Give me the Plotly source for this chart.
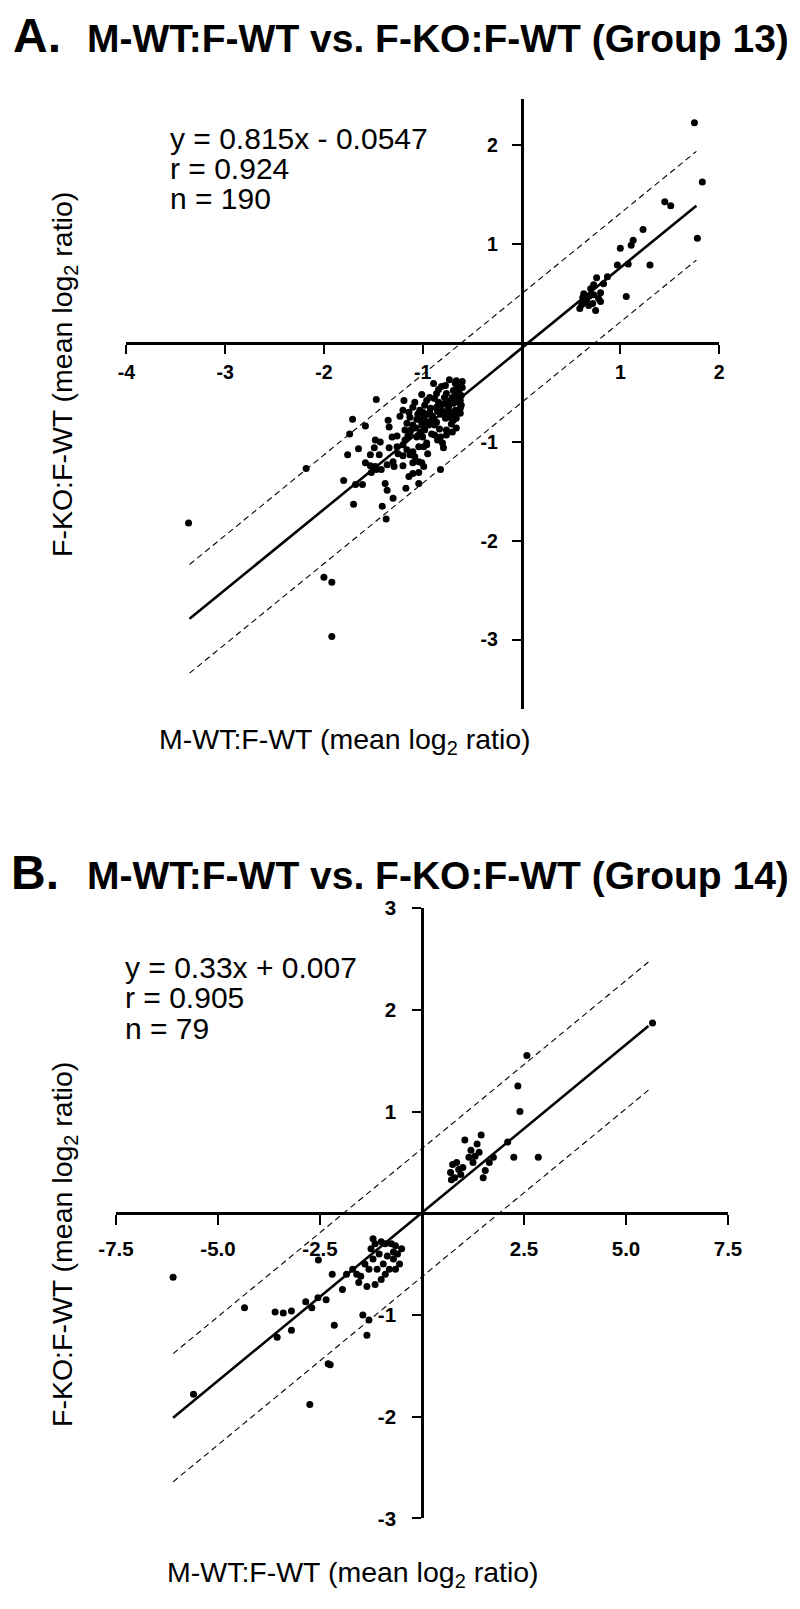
import plotly.graph_objects as go

# ---------------- Panel A (Group 13) data ----------------
g13_x = [-1.47, -1.19, -0.89, -0.81, -0.73, -0.66, -0.60, -0.65, -0.69, -0.76, -0.86, -1.01, -0.96, -0.88,
         -0.66, -0.62, -0.72, -0.69, -1.71, -1.58, -1.74, -1.35, -1.34, -1.20, -1.23, -1.10, -1.03, -0.98,
         -0.93, -0.86, -0.81, -0.74, -0.67, -0.62, -0.61, -1.13, -1.06, -0.99, -0.91, -0.86, -0.77, -0.69,
         -0.66, -0.76, -0.83, -0.88, -0.94, -1.01, -1.10, -1.16, -1.48, -1.43, -1.31, -1.26, -1.18, -1.20,
         -1.13, -1.06, -1.00, -0.96, -0.91, -0.82, -0.80, -0.79, -1.76, -1.65, -1.53, -1.44, -1.49, -1.34,
         -1.26, -1.16, -1.10, -1.04, -0.99, -0.96, -1.58, -1.53, -1.48, -1.36, -1.30, -1.29, -1.20, -1.08,
         -1.04, -1.01, -0.99, -1.10, -1.13, -1.52, -1.47, -1.42, -1.10, -1.04, -1.14, -0.82, -1.80, -1.68,
         -1.61, -1.38, -1.36, -1.30, -1.17, -1.04, -1.70, -1.41, -1.37,
         -3.37, -2.18, -2.00, -1.92, -1.92,
         -0.63, -0.64, -0.70, -0.75, -0.78, -0.80, -0.84, -0.68, -0.72, -0.64, -0.62, -0.66, -0.71, -0.73,
         -0.78, -0.82, -0.85, -0.90, -0.92, -0.95, -0.97, -1.00, -1.02, -1.05, -1.07, -1.12, -1.15, -1.18,
         -1.02, -0.98, -0.88, -0.85, -0.76, -0.70, -0.61, -0.60, -0.67, -0.77, -0.84, -0.93, -1.08, -1.14,
         -0.95, -1.20, -1.25,
         1.75, 1.83, 1.78, 1.45, 1.51, 1.23, 1.13, 1.11, 1.00, 0.97, 1.08, 1.30, 1.06, 0.87, 0.76, 0.73,
         0.80, 0.73, 0.80, 0.75, 0.68, 0.62, 0.61, 0.59, 0.64, 0.69, 0.66, 0.70, 0.78, 0.72, 0.63, 0.83]
g13_y = [-0.57, -0.58, -0.41, -0.44, -0.37, -0.38, -0.39, -0.44, -0.48, -0.51, -0.51, -0.52, -0.58, -0.56,
         -0.54, -0.58, -0.58, -0.61, -0.77, -0.84, -0.92, -0.78, -0.85, -0.68, -0.74, -0.65, -0.68, -0.63,
         -0.70, -0.65, -0.68, -0.65, -0.68, -0.66, -0.63, -0.75, -0.77, -0.75, -0.78, -0.80, -0.76, -0.78,
         -0.86, -0.88, -0.87, -0.83, -0.83, -0.83, -0.83, -0.81, -0.98, -1.00, -0.95, -0.94, -0.98, -1.03,
         -0.91, -0.95, -0.95, -1.03, -0.92, -0.95, -1.01, -1.06, -1.13, -1.07, -1.13, -1.13, -1.06, -1.06,
         -1.05, -1.08, -1.10, -1.05, -1.05, -1.01, -1.21, -1.24, -1.25, -1.23, -1.20, -1.25, -1.24, -1.15,
         -1.20, -1.21, -1.25, -1.21, -1.13, -1.31, -1.28, -1.28, -1.32, -1.31, -1.35, -1.28, -1.39, -1.43,
         -1.43, -1.42, -1.49, -1.57, -1.47, -1.42, -1.63, -1.65, -1.78,
         -1.82, -1.27, -2.37, -2.42, -2.97,
         -0.47, -0.52, -0.55, -0.60, -0.55, -0.62, -0.60, -0.72, -0.70, -0.60, -0.71, -0.76, -0.82, -0.75,
         -0.70, -0.72, -0.69, -0.74, -0.66, -0.72, -0.79, -0.70, -0.78, -0.72, -0.86, -0.88, -0.94, -0.88,
         -0.90, -0.88, -0.93, -0.98, -0.93, -0.90, -0.53, -0.45, -0.41, -0.43, -0.47, -0.55, -0.60, -0.70,
         -1.12, -1.14, -1.12,
         2.23, 1.63, 1.06, 1.43, 1.39, 1.15, 1.04, 0.99, 0.96, 0.79, 0.80, 0.79, 0.47, 0.67, 0.66, 0.59,
         0.51, 0.49, 0.42, 0.33, 0.38, 0.46, 0.39, 0.35, 0.42, 0.48, 0.44, 0.55, 0.45, 0.40, 0.50, 0.60]
fit13_x = [-3.36, 1.77]
fit13_y = [-2.79, 1.39]
upper13_y = [-2.24, 1.94]
lower13_y = [-3.34, 0.84]
x13_ticks = [-4, -3, -2, -1, 1, 2]
x13_labels = ["-4", "-3", "-2", "-1", "1", "2"]
y13_ticks = [-3, -2, -1, 1, 2]
y13_labels = ["-3", "-2", "-1", "1", "2"]
eq13 = ["y = 0.815x - 0.0547", "r = 0.924", "n = 190"]

# ---------------- Panel B (Group 14) data ----------------
g14_x = [-6.10, -5.60, -4.35, -3.60, -3.40, -3.20, -3.55, -3.20, -2.85, -2.70, -2.55, -2.54, -2.20, -2.35,
         -2.15, -2.30, -2.25, -2.75, -1.95, -1.85, -1.60, -1.55, -1.45, -1.35, -1.30, -1.70, -1.40, -1.25,
         -1.15, -1.00, -0.90, -0.75, -0.65, -0.60, -0.70, -0.85, -1.05, -1.20, -1.30, -1.10, -0.95, -0.80,
         -0.65, -0.55, -1.00, -1.15, -1.35, -0.90, -1.50, -0.70, -0.50, -1.20,
         5.65, 2.57, 2.35, 2.40, 2.85, 2.10, 2.25, 1.05, 1.45, 1.35, 1.20, 1.30, 1.40, 1.15, 0.75, 0.70,
         0.80, 0.90, 0.85, 1.00, 0.72, 1.55, 1.65, 1.50, 1.75, 0.95, 1.25]
g14_y = [-0.63, -1.78, -0.93, -0.97, -0.98, -0.96, -1.22, -1.15, -0.87, -0.93, -0.83, -0.46, -0.60, -0.85,
         -1.10, -1.48, -1.49, -1.88, -0.75, -0.60, -0.60, -0.68, -1.00, -1.20, -1.05, -0.55, -0.50, -0.35,
         -0.30, -0.28, -0.30, -0.30, -0.32, -0.40, -0.45, -0.42, -0.40, -0.45, -0.55, -0.55, -0.50, -0.55,
         -0.55, -0.50, -0.65, -0.70, -0.72, -0.60, -0.62, -0.38, -0.35, -0.25,
         1.87, 1.55, 1.25, 1.00, 0.55, 0.70, 0.55, 0.72, 0.77, 0.68, 0.62, 0.56, 0.60, 0.55, 0.48, 0.40,
         0.35, 0.43, 0.50, 0.45, 0.33, 0.42, 0.50, 0.35, 0.55, 0.38, 0.50]
fit14_x = [-6.10, 5.55]
fit14_y = [-2.01, 1.84]
upper14_y = [-1.38, 2.47]
lower14_y = [-2.64, 1.21]
x14_ticks = [-7.5, -5.0, -2.5, 2.5, 5.0, 7.5]
x14_labels = ["-7.5", "-5.0", "-2.5", "2.5", "5.0", "7.5"]
y14_ticks = [-3, -2, -1, 1, 2, 3]
y14_labels = ["-3", "-2", "-1", "1", "2", "3"]
eq14 = ["y = 0.33x + 0.007", "r = 0.905", "n = 79"]

W, H = 800, 1609
FONT = "Liberation Sans, Arial, Helvetica, sans-serif"

# panel geometry (paper fractions)
A_xdom, A_xr = [0.1579, 0.8989], [-4, 2]
A_ydom, A_yr = [0.5595, 0.9385], [-3.70, 2.47]
B_xdom, B_xr = [0.145, 0.91], [-7.5, 7.5]
B_ydom, B_yr = [0.0563, 0.4356], [-3, 3]


def zero_pos(dom, rng):
    return dom[0] + (0 - rng[0]) / (rng[1] - rng[0]) * (dom[1] - dom[0])


fig = go.Figure()


def add_panel(xs, ys, fx, fy, uy, ly, xa, ya):
    fig.add_trace(go.Scatter(x=fx, y=uy, mode="lines", xaxis=xa, yaxis=ya,
                             line=dict(color="black", width=1.1, dash="6px,4px"), showlegend=False))
    fig.add_trace(go.Scatter(x=fx, y=ly, mode="lines", xaxis=xa, yaxis=ya,
                             line=dict(color="black", width=1.1, dash="6px,4px"), showlegend=False))
    fig.add_trace(go.Scatter(x=fx, y=fy, mode="lines", xaxis=xa, yaxis=ya,
                             line=dict(color="black", width=2.6), showlegend=False))
    fig.add_trace(go.Scatter(x=xs, y=ys, mode="markers", xaxis=xa, yaxis=ya,
                             marker=dict(color="black", size=7, line=dict(width=0)),
                             showlegend=False, cliponaxis=False))


add_panel(g13_x, g13_y, fit13_x, fit13_y, upper13_y, lower13_y, "x", "y")
add_panel(g14_x, g14_y, fit14_x, fit14_y, upper14_y, lower14_y, "x2", "y2")


def axis(size, standoff, ticklen):
    return dict(showgrid=False, zeroline=False, showline=True, linecolor="black", linewidth=2.6,
                ticks="outside", ticklen=ticklen, tickwidth=2.4, tickcolor="black",
                ticklabelstandoff=standoff,
                tickfont=dict(family=FONT, size=size, color="black", weight="bold"),
                anchor="free", fixedrange=True)


fig.update_layout(
    width=W, height=H, margin=dict(l=0, r=0, t=0, b=0, autoexpand=False),
    paper_bgcolor="white", plot_bgcolor="white",
    xaxis=dict(domain=A_xdom, range=A_xr, position=zero_pos(A_ydom, A_yr),
               tickvals=x13_ticks, ticktext=x13_labels, **axis(19.5, 2, 9)),
    yaxis=dict(domain=A_ydom, range=A_yr, position=zero_pos(A_xdom, A_xr),
               tickvals=y13_ticks, ticktext=y13_labels, **axis(19.5, 10, 9)),
    xaxis2=dict(domain=B_xdom, range=B_xr, position=zero_pos(B_ydom, B_yr),
                tickvals=x14_ticks, ticktext=x14_labels, **axis(20.5, 6, 10)),
    yaxis2=dict(domain=B_ydom, range=B_yr, position=zero_pos(B_xdom, B_xr),
                tickvals=y14_ticks, ticktext=y14_labels, **axis(20.5, 12, 9)),
)


def px_y(p):
    return 1 - p / H


def px_x(p):
    return p / W


ann = []


def text(x, y, s, size, bold=False, xanchor="left", angle=0):
    ann.append(dict(x=px_x(x), y=px_y(y), xref="paper", yref="paper", text=s, showarrow=False,
                    xanchor=xanchor, yanchor="middle", textangle=angle, borderpad=0,
                    font=dict(family=FONT, size=size, color="black", weight="bold" if bold else "normal")))


# titles
text(12, 36, "A.", 48, bold=True)
text(86, 38, "M-WT:F-WT vs. F-KO:F-WT (Group 13)", 39, bold=True)
text(10, 873, "B.", 48, bold=True)
text(86, 875, "M-WT:F-WT vs. F-KO:F-WT (Group 14)", 39, bold=True)

# regression statistics
for i, s in enumerate(eq13):
    text(169, 139 + 30 * i, s, 30)
for i, s in enumerate(eq14):
    text(124, 968 + 30 * i, s, 30)

# axis titles
xt = "M-WT:F-WT (mean log<sub>2</sub> ratio)"
yt = "F-KO:F-WT (mean log<sub>2</sub> ratio)"
text(345, 741, xt, 28.5, xanchor="center")
text(353, 1574, xt, 28.5, xanchor="center")
text(64, 375, yt, 28.5, xanchor="center", angle=-90)
text(64, 1245, yt, 28.5, xanchor="center", angle=-90)

fig.update_layout(annotations=ann)
fig.write_html("out.html", config={"displayModeBar": False},
               post_script="document.body.style.margin='0';document.body.style.overflow='hidden';")
